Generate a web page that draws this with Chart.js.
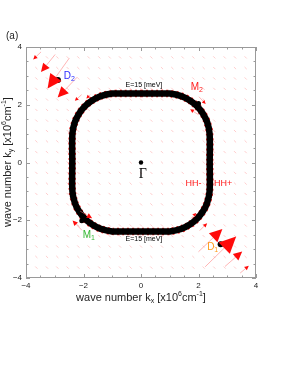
<!DOCTYPE html>
<html>
<head>
<meta charset="utf-8">
<script src="https://cdn.jsdelivr.net/npm/chart.js@4"></script>
<style>
  html, body { margin: 0; padding: 0; background: #fff; }
</style>
</head>
<body>
<canvas id="chart" width="298" height="385"></canvas>
<script>
// ================================
// DATA
// ================================
// iso-energy contour E = 15 meV (closed loop)
const CONTOUR_KX = [0, 0.6, 1.0, 1.4, 1.7, 1.95, 2.15, 2.3, 2.386, 2.39,
  2.386, 2.3, 2.15, 1.95, 1.7, 1.4, 1.0, 0.6, 0,
  -0.6, -1.0, -1.4, -1.7, -1.95, -2.15, -2.3, -2.386, -2.39,
  -2.386, -2.3, -2.15, -1.95, -1.7, -1.4, -1.0, -0.6, 0];
const CONTOUR_KY = [2.39, 2.39, 2.386, 2.3, 2.15, 1.95, 1.7, 1.4, 1.0, 0,
  -1.0, -1.4, -1.7, -1.95, -2.15, -2.3, -2.386, -2.39, -2.39,
  -2.39, -2.386, -2.3, -2.15, -1.95, -1.7, -1.4, -1.0, 0,
  1.0, 1.4, 1.7, 1.95, 2.15, 2.3, 2.386, 2.39, 2.39];

// faint vector field grid
const GRID = [-3.64, -3.27, -2.91, -2.55, -2.18, -1.82, -1.45, -1.09, -0.73, -0.36, 0,
  0.36, 0.73, 1.09, 1.45, 1.82, 2.18, 2.55, 2.91, 3.27, 3.64];

// visible arrows: tail position and vector
const ARROW_X = [-3.54, -3.1, -2.67, -2.38, -2.12, -1.8, 2.19, 2.48, 3.06, 3.52, 2.1, 1.78, -2.13, -2.02, 2.07, 1.93];
const ARROW_Y = [3.77, 3.6, 3.37, 2.79, 2.3, 2.32, -2.91, -3.37, -3.48, -3.77, -2.3, -1.9, -2.27, -1.74, 2.22, 1.7];
const ARROW_U = [-0.21, -0.38, -0.58, -0.52, -0.18, -0.1, 0.64, 0.83, 0.46, 0.23, 0.2, 0.14, -0.25, 0.32, 0.18, -0.22];
const ARROW_V = [-0.2, -0.47, -0.81, -0.54, -0.16, -0.1, 0.61, 0.81, 0.4, 0.19, 0.2, 0.15, 0.26, -0.19, -0.19, 0.14];

// special k-points
const POINT_NAMES = ['Γ', 'M1', 'M2', 'D1', 'D2'];
const POINT_KX = [0, -2.06, 2.0, 2.77, -2.89];
const POINT_KY = [0, -2.02, 2.04, -2.83, 2.86];

const AXIS_MIN = -4;
const AXIS_MAX = 4;

// ================================
// UTILS
// ================================
const FONT = '"Liberation Sans", Arial, sans-serif';

const zip = (xs, ys) => xs.map((x, i) => ({ x, y: ys[i] }));

function drawRich(ctx, parts, x, y, align) {
  let total = 0;
  parts.forEach(p => {
    ctx.font = `${p.s}px ${p.f || FONT}`;
    p.w = ctx.measureText(p.t).width;
    total += p.w;
  });
  let cx = align === 'center' ? x - total / 2 : align === 'right' ? x - total : x;
  ctx.textBaseline = 'middle';
  ctx.textAlign = 'left';
  parts.forEach(p => {
    ctx.font = `${p.s}px ${p.f || FONT}`;
    ctx.fillText(p.t, cx, y + (p.dy || 0));
    cx += p.w;
  });
}

// ================================
// PLUGINS
// ================================
const frameTicks = {
  id: 'frameTicks',
  afterDraw(chart) {
    const { ctx, chartArea: a, scales } = chart;
    ctx.save();
    ctx.strokeStyle = '#9a9a9a';
    ctx.lineWidth = 1;
    ctx.strokeRect(a.left + 0.5, a.top + 0.5, a.right - a.left - 1, a.bottom - a.top - 1);
    ctx.beginPath();
    scales.x.ticks.forEach(t => {
      const px = Math.round(scales.x.getPixelForValue(t.value)) + 0.5;
      const len = t.value % 2 === 0 ? 4 : 2.5;
      ctx.moveTo(px, a.bottom); ctx.lineTo(px, a.bottom - len);
      ctx.moveTo(px, a.top); ctx.lineTo(px, a.top + len);
    });
    scales.y.ticks.forEach(t => {
      const py = Math.round(scales.y.getPixelForValue(t.value)) + 0.5;
      const len = t.value % 2 === 0 ? 4 : 2.5;
      ctx.moveTo(a.left, py); ctx.lineTo(a.left + len, py);
      ctx.moveTo(a.right, py); ctx.lineTo(a.right - len, py);
    });
    ctx.stroke();
    ctx.restore();
  }
};

const arrows = {
  id: 'arrows',
  afterDatasetsDraw(chart) {
    const { ctx, scales: { x, y } } = chart;
    ctx.save();
    ARROW_X.forEach((ax, i) => {
      const x0 = x.getPixelForValue(ax);
      const y0 = y.getPixelForValue(ARROW_Y[i]);
      const x1 = x.getPixelForValue(ax + ARROW_U[i]);
      const y1 = y.getPixelForValue(ARROW_Y[i] + ARROW_V[i]);
      const len = Math.hypot(x1 - x0, y1 - y0);
      const ux = (x1 - x0) / len, uy = (y1 - y0) / len;
      const hl = Math.max(3.5, 0.5 * len);
      const hw = Math.max(1.8, 0.24 * len);
      const bx = x1 - ux * hl, by = y1 - uy * hl;

      ctx.strokeStyle = 'rgba(255,120,120,0.55)';
      ctx.lineWidth = 1;
      ctx.beginPath();
      ctx.moveTo(x0 - ux * 0.3 * len, y0 - uy * 0.3 * len);
      ctx.lineTo(bx, by);
      ctx.stroke();

      ctx.fillStyle = '#ff0a0a';
      ctx.beginPath();
      ctx.moveTo(x1, y1);
      ctx.lineTo(bx - uy * hw, by + ux * hw);
      ctx.lineTo(bx + uy * hw, by - ux * hw);
      ctx.closePath();
      ctx.fill();
    });
    ctx.restore();
  }
};

const labels = {
  id: 'labels',
  afterDraw(chart) {
    const { ctx, scales: { x, y } } = chart;
    const px = v => x.getPixelForValue(v);
    const py = v => y.getPixelForValue(v);
    ctx.save();

    ctx.fillStyle = '#2b2bff';
    drawRich(ctx, [{ t: 'D', s: 10 }, { t: '2', s: 7, dy: 3 }], px(-2.69), py(2.98), 'left');
    ctx.fillStyle = '#ff9a1a';
    drawRich(ctx, [{ t: 'D', s: 10 }, { t: '1', s: 7, dy: 3 }], px(2.3), py(-2.94), 'left');
    ctx.fillStyle = '#ff2020';
    drawRich(ctx, [{ t: 'M', s: 10 }, { t: '2', s: 7, dy: 3 }], px(1.73), py(2.62), 'left');
    ctx.fillStyle = '#33b833';
    drawRich(ctx, [{ t: 'M', s: 10 }, { t: '1', s: 7, dy: 3 }], px(-2.03), py(-2.52), 'left');

    ctx.fillStyle = '#ff2020';
    drawRich(ctx, [{ t: 'HH-', s: 9 }], px(2.1), py(-0.72), 'right');
    drawRich(ctx, [{ t: 'HH+', s: 9 }], px(2.54), py(-0.72), 'left');

    ctx.fillStyle = '#000';
    drawRich(ctx, [{ t: 'Γ', s: 14, f: '"Liberation Serif", serif' }], px(0.06), py(-0.4), 'center');
    drawRich(ctx, [{ t: 'E=15 [meV]', s: 7 }], px(0.1), py(2.67), 'center');
    drawRich(ctx, [{ t: 'E=15 [meV]', s: 7 }], px(0.1), py(-2.66), 'center');

    ctx.fillStyle = '#222';
    drawRich(ctx, [{ t: '(a)', s: 10 }], 6, 36, 'left');

    // axis titles
    ctx.fillStyle = '#222';
    drawRich(ctx, [
      { t: 'wave number k', s: 11 }, { t: 'x', s: 7, dy: 3 }, { t: ' [x10', s: 11 },
      { t: '6', s: 7, dy: -4 }, { t: 'cm', s: 11 }, { t: '-1', s: 7, dy: -4 }, { t: ']', s: 11 }
    ], 141, 298, 'center');
    ctx.translate(8, 162);
    ctx.rotate(-Math.PI / 2);
    drawRich(ctx, [
      { t: 'wave number k', s: 11 }, { t: 'y', s: 7, dy: 3 }, { t: ' [x10', s: 11 },
      { t: '6', s: 7, dy: -4 }, { t: 'cm', s: 11 }, { t: '-1', s: 7, dy: -4 }, { t: ']', s: 11 }
    ], 0, 0, 'center');
    ctx.restore();
  }
};

// ================================
// CHART
// ================================
const fieldPoints = [];
GRID.forEach(gx => GRID.forEach(gy => fieldPoints.push({ x: gx, y: gy })));

const contour = zip(CONTOUR_KX, CONTOUR_KY);

const tickLabel = v => (v % 2 === 0 ? (v < 0 ? '\u2212' + Math.abs(v) : String(v)) : '');

// note: lower `order` is drawn on top
new Chart(document.getElementById('chart'), {
  type: 'scatter',
  data: {
    datasets: [
      {
        order: 4,
        data: fieldPoints,
        pointStyle: 'line',
        rotation: 45,
        pointRadius: 1.5,
        borderWidth: 1,
        borderColor: 'rgba(255,90,90,0.3)',
        backgroundColor: 'rgba(255,90,90,0.3)'
      },
      {
        order: 3,
        data: contour,
        showLine: true,
        borderColor: '#ff1a1a',
        borderWidth: 7.5,
        borderDash: [2, 3],
        pointRadius: 0,
        tension: 0.3
      },
      {
        order: 2,
        data: contour,
        showLine: true,
        borderColor: '#000',
        borderWidth: 6.5,
        pointRadius: 0,
        tension: 0.3
      },
      {
        order: 1,
        label: POINT_NAMES.join(','),
        data: zip(POINT_KX, POINT_KY),
        pointRadius: [2.2, 2.5, 2.5, 3, 3],
        backgroundColor: '#000',
        borderColor: '#000',
        borderWidth: 0
      }
    ]
  },
  options: {
    responsive: false,
    animation: false,
    layout: { padding: { left: 0, right: 42, top: 47, bottom: 95 } },
    plugins: { legend: { display: false }, tooltip: { enabled: false } },
    scales: {
      x: {
        min: AXIS_MIN,
        max: AXIS_MAX,
        grid: { display: false, drawTicks: false },
        border: { display: false },
        ticks: {
          stepSize: 0.5,
          autoSkip: false,
          maxRotation: 0,
          padding: 3,
          color: '#222',
          font: { size: 8, family: FONT },
          callback: tickLabel
        },
        afterFit: s => { s.height = 12; }
      },
      y: {
        min: AXIS_MIN,
        max: AXIS_MAX,
        grid: { display: false, drawTicks: false },
        border: { display: false },
        ticks: {
          stepSize: 0.5,
          autoSkip: false,
          padding: 4,
          color: '#222',
          font: { size: 8, family: FONT },
          callback: tickLabel
        },
        afterFit: s => { s.width = 26; }
      }
    }
  },
  plugins: [frameTicks, arrows, labels]
});
</script>
</body>
</html>
